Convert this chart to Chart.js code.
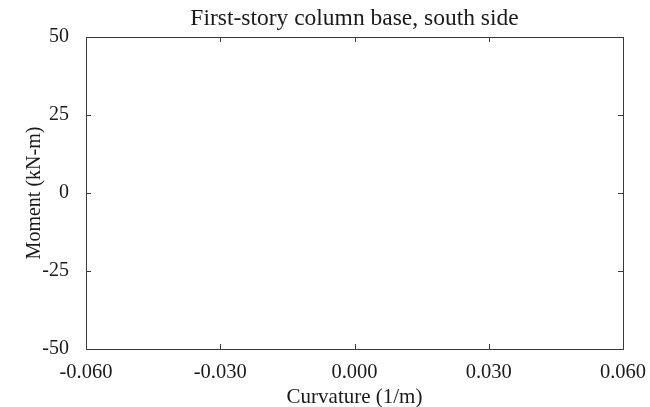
<!DOCTYPE html>
<html>
<head>
<meta charset="utf-8">
<script src="https://cdn.jsdelivr.net/npm/chart.js@4"></script>
<style>
  html, body { margin: 0; padding: 0; background: #fff; }
  #wrap { width: 650px; height: 407px; }
</style>
</head>
<body>
<div id="wrap"><canvas id="c" width="650" height="407"></canvas></div>
<script>
// axis ticks
var X_TICKS = [-0.06, -0.03, 0, 0.03, 0.06];
var Y_TICKS = [-50, -25, 0, 25, 50];

// the moment-curvature curve: the reference shows an empty plot
var CURVE_X = [];
var CURVE_Y = [];

var FONT = "'Liberation Serif', 'Times New Roman', serif";
var INK = '#1a1a1a';
var AXIS = '#3a3a3a';

// box on all four sides plus inward tick marks, matlab style
var boxTicks = {
  id: 'boxTicks',
  afterDraw: function(chart) {
    var ctx = chart.ctx;
    var a = chart.chartArea;
    var xs = chart.scales.x, ys = chart.scales.y;
    var len = 5;
    ctx.save();
    ctx.strokeStyle = AXIS;
    ctx.lineWidth = 1;
    ctx.strokeRect(Math.round(a.left) + 0.5, Math.round(a.top) + 0.5,
      Math.round(a.right - a.left), Math.round(a.bottom - a.top));
    ctx.beginPath();
    X_TICKS.forEach(function(v) {
      var px = Math.round(xs.getPixelForValue(v)) + 0.5;
      ctx.moveTo(px, a.bottom); ctx.lineTo(px, a.bottom - len);
      ctx.moveTo(px, a.top); ctx.lineTo(px, a.top + len);
    });
    Y_TICKS.forEach(function(v) {
      var py = Math.round(ys.getPixelForValue(v)) + 0.5;
      ctx.moveTo(a.left, py); ctx.lineTo(a.left + len, py);
      ctx.moveTo(a.right, py); ctx.lineTo(a.right - len, py);
    });
    ctx.stroke();
    ctx.restore();
  }
};

var points = CURVE_X.map(function(x, i) { return { x: x, y: CURVE_Y[i] }; });

new Chart(document.getElementById('c'), {
  type: 'scatter',
  data: {
    datasets: [{
      label: 'Moment-curvature',
      data: points,
      showLine: true,
      borderColor: '#0000ff',
      borderWidth: 1,
      pointRadius: 0,
    }],
  },
  options: {
    responsive: false,
    animation: false,
    layout: { padding: { left: 0, right: 27, top: 0, bottom: 0 } },
    plugins: {
      legend: { display: false },
      tooltip: { enabled: false },
      title: {
        display: true,
        fullSize: false,
        text: 'First-story column base, south side',
        color: INK,
        font: { family: FONT, size: 23.5, weight: 'normal', lineHeight: 1.2 },
        padding: { top: 5, bottom: 3.8 },
      },
    },
    scales: {
      x: {
        type: 'linear',
        min: -0.06,
        max: 0.06,
        afterBuildTicks: function(s) { s.ticks = X_TICKS.map(function(v) { return { value: v }; }); },
        afterFit: function(s) { s.height = 58; },
        grid: { display: false },
        border: { display: false },
        ticks: {
          color: INK,
          padding: 3,
          maxRotation: 0,
          autoSkip: false,
          font: { family: FONT, size: 20.5 },
          callback: function(v) { return Number(v).toFixed(3); },
        },
        title: {
          display: true,
          text: 'Curvature (1/m)',
          color: INK,
          font: { family: FONT, size: 21, lineHeight: 0.9 },
          padding: { top: 0, bottom: 0 },
        },
      },
      y: {
        type: 'linear',
        min: -50,
        max: 50,
        afterBuildTicks: function(s) { s.ticks = Y_TICKS.map(function(v) { return { value: v }; }); },
        afterFit: function(s) { s.width = 86; },
        grid: { display: false },
        border: { display: false },
        ticks: {
          color: INK,
          padding: 9,
          autoSkip: false,
          font: { family: FONT, size: 20 },
        },
        title: {
          display: true,
          text: 'Moment (kN-m)',
          color: INK,
          font: { family: FONT, size: 20, lineHeight: 1.2 },
          padding: { top: 23, bottom: 0 },
        },
      },
    },
  },
  plugins: [boxTicks],
});
</script>
</body>
</html>
